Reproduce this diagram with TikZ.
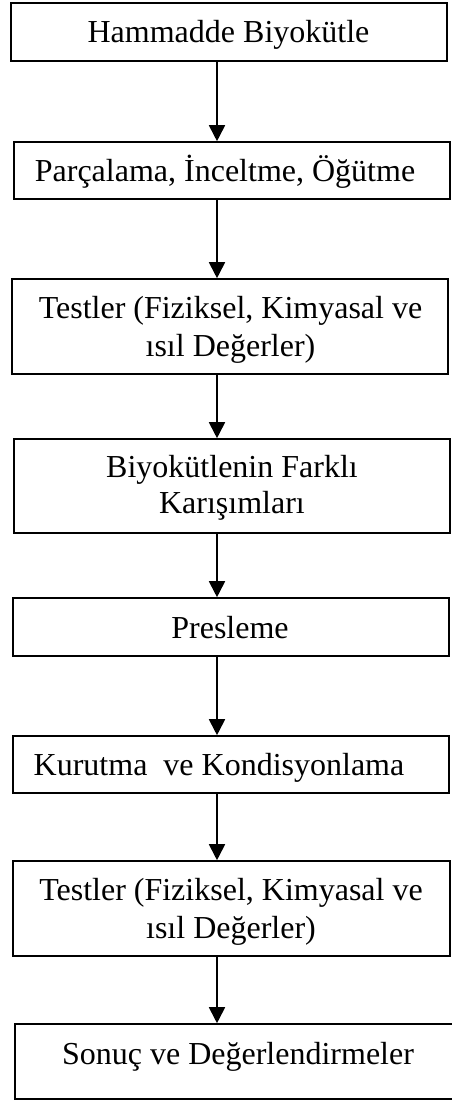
\documentclass[tikz,border=0pt]{standalone}
\usepackage{fontspec}
\setmainfont{Liberation Serif}
\usetikzlibrary{arrows.meta}
\newcommand\boxfont{\fontsize{32}{37.7}\selectfont}
\tikzset{
  box/.style={draw, line width=1.6pt, minimum width=436pt, inner sep=0pt},
  txt/.style={font=\boxfont, align=center, inner sep=0pt, anchor=base},
  arr/.style={line width=1.8pt, -{Triangle[width=16pt,length=16pt]}},
}
\begin{document}
\begin{tikzpicture}[x=1pt,y=-1pt]
\useasboundingbox (0,0) rectangle (451,1100);
\coordinate (ax) at (217,0);
% boxes
\node[box, minimum height=58pt] (b1) at (229,32) {};
\node[box, minimum height=57pt] (b2) at (232,170.5) {};
\node[box, minimum height=95pt] (b3) at (230,326.5) {};
\node[box, minimum height=94pt] (b4) at (232,486) {};
\node[box, minimum height=58pt] (b5) at (231,627) {};
\node[box, minimum height=57pt] (b6) at (231,764.5) {};
\node[box, minimum width=437pt, minimum height=95pt] (b7) at (231.5,908.5) {};
\node[box, minimum width=445pt, minimum height=75pt] (b8) at (237.5,1061.5) {};
% texts (anchored at the baseline of the last line)
\node[txt] (t1) at (228.5,42.3) {Hammadde Biyokütle};
\node[txt] (t2) at (225,181.7) {Parçalama, İnceltme, Öğütme};
\node[txt] (t3) at (230.5,356) {Testler (Fiziksel, Kimyasal ve\\ısıl Değerler)};
\node[txt] (t4) at (232,513.3) {Biyokütlenin Farklı\\[-2pt]Karışımları};
\node[txt] (t5) at (230,638.3) {Presleme};
\node[txt] (t6) at (219,775) {Kurutma\ \ ve Kondisyonlama};
\node[txt] (t7) at (231,938) {Testler (Fiziksel, Kimyasal ve\\ısıl Değerler)};
\node[txt] (t8) at (238,1064.3) {Sonuç ve Değerlendirmeler};
% arrows
\draw[arr] (b1.south -| ax) -- (b2.north -| ax);
\draw[arr] (b2.south -| ax) -- (b3.north -| ax);
\draw[arr] (b3.south -| ax) -- (b4.north -| ax);
\draw[arr] (b4.south -| ax) -- (b5.north -| ax);
\draw[arr] (b5.south -| ax) -- (b6.north -| ax);
\draw[arr] (b6.south -| ax) -- (b7.north -| ax);
\draw[arr] (b7.south -| ax) -- (b8.north -| ax);
\end{tikzpicture}
\end{document}
